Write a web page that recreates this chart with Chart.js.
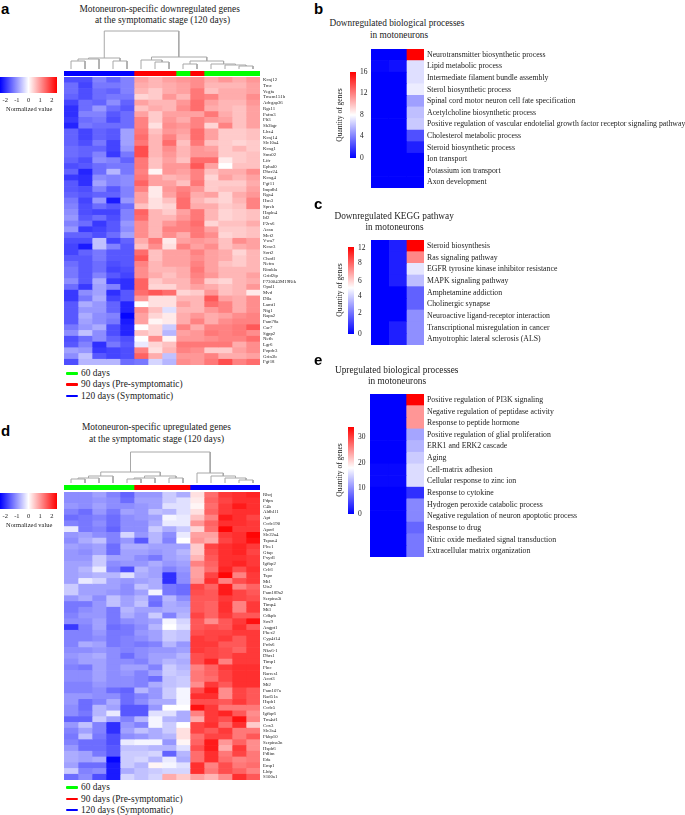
<!DOCTYPE html>
<html>
<head>
<meta charset="utf-8">
<title>Motoneuron heatmaps</title>
<script src="https://cdn.jsdelivr.net/npm/chart.js@4"></script>
<style>
    html, body { margin: 0; padding: 0; background: #fff; }
    body { width: 685px; height: 815px; position: relative; overflow: hidden; filter: blur(0.45px); }
    canvas { position: absolute; }
    .txt { position: absolute; white-space: nowrap; color: #222; font-family: "Liberation Serif", serif; transform: translateY(-50%); }
    .letter { position: absolute; color: #000; font: bold 15px "Liberation Sans", sans-serif; transform: translateY(-50%); }
    .rot { position: absolute; white-space: nowrap; color: #222; font: 7.5px "Liberation Serif", serif; transform: translate(-50%, -50%) rotate(-90deg); }
    .dash { position: absolute; height: 2.5px; border-radius: 1px; width: 12px; }
</style>
</head>
<body>
<script>
const genesA = ['Kcnj12', 'Trnc', 'Vegfa', 'Tmem151b', 'Adcgap36', 'Rgs11', 'Pafm3', 'Flt3', 'Sh3bgr', 'Lhx4',
    'Kcnj14', 'Slc10a4', 'Kcng1', 'Sms02', 'Lifr', 'Ephal0', 'Dhcr24', 'Kcng4', 'Fgf11', 'Impdh1',
    'Rga4', 'Hsn3', 'Spreb', 'Hapln4', 'Id2', 'P2rx6', 'Acan', 'Mcf2', 'Vwa7', 'Kcnc3',
    'Sort2', 'Chodl', 'Nefm', 'Rimkla', 'Grid2ip', 'F730043M19Rik', 'Opal1', 'Mvd', 'Dlla', 'Lamt1',
    'Ntg1', 'Rapa2', 'Fam78a', 'Car7', 'Sgpp2', 'Nefh', 'Lgr6', 'Popdc3', 'Grin3b', 'Fgf18'];

const valuesA = [
    [-1.7,-1.7,-1.2,-1.5,-1.2, 0.9,0.7,0.9,1.0,1.1,0.8,1.0,0.8,1.0],
    [-1.4,-1.8,-1.3,-1.3,-1.2, 0.8,0.7,0.8,0.9,1.1,0.7,0.7,0.7,0.9],
    [-1.4,-1.7,-1.4,-1.5,-1.2, 0.7,0.5,0.8,0.9,1.3,0.6,0.8,0.8,0.9],
    [-1.5,-1.7,-1.4,-1.3,-1.3, 0.4,0.5,1.0,0.7,1.3,1.2,0.8,0.8,1.1],
    [-1.8,-1.4,-1.5,-1.1,-1.5, 0.9,0.7,0.7,1.0,1.4,0.9,0.7,0.7,1.0],
    [-2.0,-1.4,-1.0,-1.4,-1.6, 0.6,0.8,0.7,1.1,1.4,0.8,0.7,0.6,0.9],
    [-2.0,-1.2,-1.2,-1.6,-1.4, 0.9,0.5,0.9,0.9,0.9,1.3,0.8,0.6,0.9],
    [-1.9,-1.4,-1.3,-1.7,-1.4, 1.2,0.5,1.0,0.8,1.2,1.0,0.9,0.6,0.9],
    [-2.1,-1.3,-1.4,-1.4,-1.4, 1.2,0.3,1.1,1.0,1.2,0.4,1.2,0.6,0.9],
    [-1.5,-1.8,-1.5,-1.6,-0.9, 1.3,0.6,1.0,0.9,1.4,0.9,0.5,0.5,0.6],
    [-1.5,-1.8,-1.5,-1.6,-0.9, 1.4,0.7,1.2,0.8,1.4,0.9,0.5,0.5,0.6],
    [-1.5,-1.7,-1.3,-1.8,-0.9, 1.3,0.7,1.4,0.6,1.3,0.6,0.5,0.4,0.5],
    [-1.4,-1.5,-1.5,-1.8,-1.0, 1.7,0.7,1.1,0.7,1.0,0.9,0.5,0.7,0.5],
    [-1.4,-1.5,-1.2,-1.9,-1.3, 1.7,0.7,1.0,0.7,1.0,1.0,0.5,0.5,0.6],
    [-1.5,-1.7,-1.1,-1.2,-1.5, 1.3,0.6,0.9,0.6,1.4,1.4,0.2,0.5,0.6],
    [-1.7,-1.6,-1.4,-1.3,-1.3, 1.3,0.6,1.0,1.0,1.6,0.9,0.0,0.6,0.6],
    [-1.5,-2.1,-1.4,-0.7,-1.3, 1.2,0.1,1.0,0.9,1.2,0.6,0.8,0.8,1.1],
    [-1.9,-2.0,-1.1,-1.2,-1.1, 1.3,0.9,0.7,0.8,1.2,0.4,0.9,0.7,0.9],
    [-1.6,-2.0,-0.9,-1.2,-1.1, 1.5,0.9,0.9,0.6,1.3,0.5,0.5,0.5,0.8],
    [-1.6,-1.7,-1.2,-1.6,-1.2, 1.2,0.2,1.0,1.2,1.0,0.5,0.6,0.6,0.9],
    [-1.5,-1.6,-1.5,-1.5,-1.2, 0.9,0.2,0.9,1.3,0.8,0.9,0.4,0.8,1.0],
    [-1.3,-1.8,-1.0,-2.2,-1.0, 0.9,0.3,0.6,1.4,0.7,0.5,0.4,0.7,1.2],
    [-1.2,-1.7,-1.4,-1.6,-1.4, 0.6,0.3,0.4,1.4,0.8,0.8,0.5,0.6,1.2],
    [-1.1,-1.7,-1.8,-1.8,-1.2, 1.5,0.7,0.5,0.9,1.3,0.7,0.4,0.5,0.6],
    [-1.0,-1.6,-1.4,-1.7,-1.2, 1.4,0.7,0.7,1.0,1.3,0.7,0.4,0.5,0.6],
    [-1.2,-1.4,-1.9,-1.6,-1.0, 1.1,0.7,1.0,1.2,1.4,0.4,0.6,0.6,0.8],
    [-1.0,-1.9,-1.8,-1.6,-1.1, 1.1,0.7,1.2,1.2,1.3,0.9,0.5,0.5,0.6],
    [-1.5,-1.5,-1.7,-1.4,-0.9, 1.1,0.7,1.1,0.8,1.3,1.1,0.4,0.5,0.6],
    [-1.7,-1.7,-0.6,-1.8,-1.5, 0.8,1.3,0.2,0.9,1.0,0.9,0.6,1.1,0.9],
    [-1.8,-2.2,-0.6,-1.2,-1.6, 0.6,1.1,0.3,1.2,0.9,1.1,0.6,0.8,0.9],
    [-1.8,-1.5,-1.3,-1.6,-1.6, 1.4,0.6,0.9,0.9,1.2,0.9,0.8,0.4,0.7],
    [-1.6,-1.6,-1.3,-1.6,-1.6, 1.6,0.6,0.9,0.9,1.1,0.9,0.8,0.5,0.7],
    [-1.4,-1.6,-1.4,-1.7,-1.6, 1.2,0.7,0.9,0.9,1.2,0.9,0.6,0.5,0.7],
    [-1.3,-1.6,-1.4,-1.8,-1.7, 1.1,0.7,0.7,0.8,1.3,0.9,0.7,0.7,0.7],
    [-1.3,-1.6,-1.2,-1.6,-1.8, 1.1,0.8,0.6,0.8,1.2,1.0,0.7,0.7,0.9],
    [-1.1,-1.6,-0.8,-1.9,-2.0, 1.5,0.5,0.7,0.7,1.1,0.5,0.4,0.7,0.8],
    [-1.4,-1.9,-0.9,-1.2,-2.0, 1.5,0.4,0.4,0.7,0.9,0.8,0.6,0.7,1.0],
    [-1.9,-1.1,-0.9,-2.0,-1.6, 1.4,1.6,1.4,0.4,0.5,1.0,0.6,0.7,0.2],
    [-1.9,-1.3,-0.8,-1.8,-1.6, 1.0,0.3,0.3,0.7,0.7,1.6,0.9,0.8,1.1],
    [-1.6,-0.8,-1.0,-1.5,-2.1, 0.0,0.3,0.3,0.9,0.7,1.4,1.2,0.8,1.1],
    [-1.6,-1.0,-1.0,-1.5,-2.1, 1.1,0.6,-0.3,0.7,0.7,1.0,1.2,0.8,1.1],
    [-1.6,-0.8,-1.1,-1.2,-2.4, 0.9,0.4,0.2,0.8,1.0,0.8,0.9,1.1,1.2],
    [-1.6,-0.9,-1.1,-1.3,-2.2, 0.9,0.1,0.2,0.8,1.2,0.8,1.1,1.2,1.2],
    [-1.3,-1.0,-0.8,-1.7,-2.1, 0.0,0.4,-0.5,1.2,0.8,1.2,1.2,1.3,1.6],
    [-1.1,-0.6,-1.1,-1.7,-2.1, 0.6,0.4,-0.7,0.9,1.0,1.3,1.2,1.3,1.1],
    [-1.7,-1.4,-1.1,-1.5,-1.7, 0.0,1.1,0.1,1.0,1.0,1.1,1.2,1.2,1.4],
    [-1.6,-1.2,-2.0,-1.3,-1.6, -0.2,0.4,0.6,1.3,1.3,1.3,1.3,0.8,1.1],
    [-0.9,-1.0,-1.9,-1.8,-1.7, 1.2,0.3,0.7,1.2,1.1,0.5,0.5,0.9,1.1],
    [-1.1,-0.6,-1.6,-1.8,-1.7, 1.5,0.8,-0.6,1.0,1.0,1.2,0.8,0.8,0.9],
    [-1.7,-0.7,-0.7,-0.7,-1.4, -1.3,-0.4,-0.7,1.1,1.0,1.3,1.7,1.2,1.4]
];

const genesD = ['Rhoj', 'Pdpn', 'C4b', 'Aldh1l1', 'Apt', 'Ccdc190', 'Apod', 'Slc22a4', 'Tspan4', 'Plce1',
    'Gfap', 'Fxyd1', 'Igfbp2', 'Crlf1', 'Tspo', 'Mt1', 'Uts2', 'Fam189a2', 'Serpina3i', 'Timp4',
    'Mt3', 'Cdkpb', 'Sox9', 'Angpt1', 'Phex2', 'Cyp4f14', 'Prdx6', 'Nkx6-1', 'Dhrs1', 'Timp1',
    'Flnc', 'Rarres1', 'Acot3', 'Mt2', 'Fam107a', 'Rad51a', 'Hspb1', 'Ccdc5', 'Igfbp6', 'Tm4sf1',
    'Cox3', 'Slc2a4', 'Fkbp10', 'Serpina3n', 'Hspb6', 'Pdlim', 'Eda', 'Emp1', 'Lhfp', 'S100a1'];

const valuesD = [
    [-1.1,-1.1,-0.9,-1.2,-1.5, -1.0,-1.0,-0.5,-0.8, 0.3,1.4,1.9,2.0,2.1],
    [-1.1,-1.1,-1.0,-1.1,-1.4, -0.9,-0.9,-0.5,-0.3, 0.2,1.5,1.8,2.0,2.0],
    [-1.0,-1.1,-0.9,-1.1,-1.1, -1.0,-0.9,-0.3,-0.3, 0.1,1.4,1.9,2.2,2.0],
    [-1.2,-1.4,-1.0,-1.3,-0.9, -1.0,-0.6,-0.7,-0.3, 0.3,1.5,1.9,2.0,2.0],
    [-1.4,-1.3,-1.2,-1.4,-1.1, -1.0,-0.9,-0.1,-0.2, 0.6,1.2,2.2,2.0,1.8],
    [-1.2,-1.3,-1.1,-1.4,-1.1, -1.1,-0.8,-0.2,-0.2, 1.0,1.5,2.0,2.0,1.9],
    [-0.2,-1.3,-1.2,-1.5,-1.1, -1.1,-0.5,-0.8,-0.5, 0.4,1.4,2.4,1.9,1.9],
    [-1.0,-0.9,-1.1,-1.2,-0.4, -1.0,-0.7,-1.1,-0.2, 0.9,0.9,1.9,2.0,2.4],
    [-1.1,-0.8,-0.6,-1.2,-1.0, -1.6,-0.7,-1.2,0.0, 1.0,0.8,1.8,2.0,2.3],
    [-0.9,-1.0,-0.9,-1.4,-0.8, -0.8,-0.9,-0.9,-0.9, 0.5,1.8,2.0,2.1,1.9],
    [-1.0,-1.1,-0.9,-1.4,-0.9, -0.9,-1.0,-0.9,-0.7, 0.5,1.7,2.0,2.1,1.8],
    [-1.0,-1.0,-0.5,-0.9,-0.9, -1.1,-1.3,-0.9,-0.8, 0.7,1.6,2.0,2.0,1.9],
    [-0.9,-0.9,-0.5,-1.1,-1.0, -1.0,-0.8,-1.0,-0.9, 1.2,1.5,2.0,2.1,1.9],
    [-0.9,-0.7,-0.2,-1.2,-1.7, -0.7,-0.9,-1.2,-1.0, 0.9,1.4,2.1,1.7,2.0],
    [-0.9,-0.8,-0.7,-0.7,-0.3, -0.8,-0.9,-2.0,-1.1, 0.9,1.8,2.4,1.2,1.9],
    [-0.9,-0.2,-0.4,-0.9,-1.0, -0.9,-0.8,-2.0,-1.1, 1.0,2.0,1.2,1.7,1.9],
    [-0.5,-0.9,-0.9,-0.9,-1.1, -0.6,-0.8,-1.3,-1.4, 1.8,1.5,2.2,1.2,1.5],
    [-0.5,-0.9,-0.9,-1.0,-1.1, -0.9,-0.1,-1.3,-1.4, 1.7,1.6,2.2,1.8,1.6],
    [-1.0,-0.8,-1.1,-0.6,-0.9, -0.7,-1.3,-0.7,-1.1, 1.6,1.6,1.9,1.8,1.7],
    [-1.3,-1.3,-1.0,-0.6,-0.9, -0.6,-1.4,-0.8,-0.9, 1.6,1.5,2.0,1.2,1.9],
    [-1.3,-1.1,-1.0,-1.3,-0.7, -0.9,-0.9,-0.8,-0.8, 1.6,1.5,2.0,1.2,1.9],
    [-1.2,-1.0,-1.0,-1.3,-0.8, -1.0,-0.5,-1.2,-0.7, 1.8,1.5,1.9,1.6,1.6],
    [-1.1,-1.1,-0.9,-1.3,-1.1, -1.0,-0.9,-0.1,-0.4, 1.6,1.1,1.6,1.9,2.3],
    [-1.9,-1.2,-0.9,-1.4,-1.3, -1.1,-0.7,0.0,-0.3, 1.6,1.7,1.6,2.0,1.6],
    [-1.2,-1.2,-1.0,-1.3,-1.3, -1.0,-0.9,-0.5,-0.6, 1.7,1.8,1.8,1.9,1.9],
    [-1.2,-1.2,-1.1,-1.3,-1.2, -1.1,-0.9,-0.5,-0.6, 1.9,1.8,1.9,1.6,1.9],
    [-1.2,-0.8,-0.9,-1.3,-1.2, -1.3,-1.2,-0.7,-1.0, 1.9,1.9,1.6,1.6,1.9],
    [-1.1,-1.1,-1.0,-1.1,-1.2, -1.1,-1.0,-1.0,-0.9, 1.9,1.8,1.7,1.5,1.9],
    [-1.0,-0.9,-0.8,-1.1,-1.4, -1.1,-0.9,-0.9,-0.7, 1.7,1.8,1.7,1.9,1.9],
    [-1.1,-0.9,-0.9,-1.1,-1.1, -1.2,-0.9,-0.7,-0.8, 1.7,2.1,1.2,1.9,1.9],
    [-1.2,-1.3,-0.9,-1.1,-0.9, -0.9,-1.2,-0.5,-0.7, 1.2,1.5,1.9,2.0,2.0],
    [-1.1,-1.1,-0.9,-1.1,-1.0, -1.2,-0.9,-0.5,-0.6, 1.3,1.5,1.8,2.0,2.0],
    [-1.1,-1.1,-0.9,-1.1,-1.1, -1.2,-1.4,-0.6,-0.5, 1.3,1.4,1.8,2.0,2.0],
    [-1.2,-1.2,-1.0,-1.1,-1.1, -1.2,-0.8,-0.6,-0.5, 1.1,1.9,1.6,2.0,2.0],
    [-1.2,-1.2,-1.1,-1.4,-1.5, -0.7,-1.0,-0.5,-0.1, 1.7,2.2,1.1,1.8,1.6],
    [-1.0,-1.0,-1.1,-1.1,-1.4, -1.2,-1.0,-0.5,-0.1, 2.0,2.0,1.1,1.8,1.6],
    [-1.0,-1.4,-1.2,-0.8,-1.4, -1.1,-0.8,-0.8,-0.1, 1.7,1.7,1.6,1.9,1.6],
    [-1.1,-1.4,-0.7,-0.9,-1.6, -1.6,-1.0,0.0,0.0, 2.3,1.9,1.3,1.3,1.3],
    [-1.1,-1.3,-0.7,-0.2,-1.6, -1.6,-0.3,-0.3,-0.8, 1.2,1.9,2.1,1.6,1.1],
    [-1.5,-1.5,-0.5,-0.9,-1.2, -0.7,-0.1,-0.7,-0.8, 0.8,1.9,1.7,2.3,1.2],
    [-1.0,-0.6,-1.2,-2.0,-1.0, -1.2,-0.1,-0.5,0.0, 1.8,2.0,1.4,2.0,0.5],
    [-1.2,-0.9,-1.2,-2.0,-0.9, -0.6,-0.8,-0.5,0.3, 1.8,1.6,1.9,1.3,1.3],
    [-1.3,-0.6,-1.3,-1.7,-1.1, -1.0,-0.8,-0.7,0.3, 1.4,1.8,1.8,1.3,1.6],
    [-1.2,-1.4,-1.4,-1.7,-0.2, -0.1,-0.1,-1.0,0.1, 1.5,2.2,1.0,1.5,1.1],
    [-1.0,-1.4,-1.4,-1.6,-0.6, -0.6,-0.7,-0.7,-0.3, 1.7,2.2,0.8,1.9,1.1],
    [-0.8,-0.9,-1.3,-1.6,-0.5, -0.5,-0.4,-1.5,-0.7, 1.4,2.0,1.3,1.8,1.3],
    [-0.8,-0.9,-0.8,-2.4,-0.5, -0.4,-0.7,-0.2,-0.8, 1.4,2.0,1.4,1.2,1.3],
    [-0.9,-1.4,-1.4,-2.2,-0.5, -0.7,0.1,-0.1,-0.3, 2.0,1.2,1.7,1.3,1.4],
    [-0.5,-1.2,-1.1,-2.2,-0.8, -0.6,-0.5,-0.4,-0.4, 2.0,1.3,1.7,1.5,1.2],
    [-1.4,-1.1,-1.7,-2.2,-0.4, -0.6,-0.4,0.8,0.5, 0.9,0.7,1.1,2.0,1.6]
];

// sample group of each heatmap column, in days
const daysA = [120, 120, 120, 120, 120, 90, 90, 90, 60, 90, 60, 60, 60, 60];
const daysD = [60, 60, 60, 60, 60, 90, 90, 90, 90, 120, 120, 120, 120, 120];
const legendDays = [60, 90, 120];
const legendNames = ['60 days', '90 days (Pre-symptomatic)', '120 days (Symptomatic)'];
const legendColors = ['#00ff00', '#ff0000', '#0000ff'];

// dendrogram merges: [left x, left height, right x, right height, merge height]
const treeA = [
    [0.5, 0, 1.5, 0, 8], [1, 8, 2.5, 0, 10], [3.5, 0, 4.5, 0, 8], [1.75, 10, 4, 8, 11],
    [6.5, 0, 7.5, 0, 7], [5.5, 0, 7, 7, 9], [8.5, 0, 9.5, 0, 5], [12.5, 0, 13.5, 0, 3],
    [11.5, 0, 13, 3, 4], [10.5, 0, 12.25, 4, 5], [9, 5, 11.4, 5, 8], [6.25, 9, 10.2, 8, 12],
    [2.875, 11, 8.2, 12, 38]
];
const treeD = [
    [0.5, 0, 1.5, 0, 4], [1, 4, 2.5, 0, 5], [1.75, 5, 3.5, 0, 7],
    [4.5, 0, 5.5, 0, 4], [5, 4, 6.5, 0, 5], [7.5, 0, 8.5, 0, 5], [5.75, 5, 8, 5, 7],
    [2.625, 7, 6.875, 7, 11],
    [12.5, 0, 13.5, 0, 3], [11.5, 0, 13, 3, 5], [10.5, 0, 12.25, 5, 7], [9.5, 0, 11.375, 7, 10],
    [4.75, 11, 10.44, 10, 31]
];

const termsB = ['Neurotransmitter biosynthetic process', 'Lipid metabolic process', 'Intermediate filament bundle assembly',
    'Sterol biosynthetic process', 'Spinal cord motor neuron cell fate specification', 'Acetylcholine biosynthetic process',
    'Positive regulation of vascular endotelial growth factor receptor signaling pathway', 'Cholesterol metabolic process',
    'Steroid biosynthetic process', 'Ion transport', 'Potassium ion transport', 'Axon development'];
const valuesB = [[0, 0, 16], [0.2, 0.5, 7], [0, 0, 7], [0, 0, 7.4], [0, 0, 5], [0, 0, 6],
    [0, 0, 6.3], [0, 0, 2.5], [0, 0, 1], [0, 0, 0], [0, 0, 0], [0, 0, 0]];

const termsC = ['Steroid biosynthesis', 'Ras signaling pathway', 'EGFR tyrosine kinase inhibitor resistance',
    'MAPK signaling pathway', 'Amphetamine addiction', 'Cholinergic synapse', 'Neuroactive ligand-receptor interaction',
    'Transcriptional misregulation in cancer', 'Amyotrophic lateral sclerosis (ALS)'];
const valuesC = [[0, 0.6, 12], [0, 0.6, 8.3], [0, 0.6, 4.5], [0, 0.6, 3.7], [0, 0, 1.9], [0, 0, 1.9],
    [0, 0, 2.8], [0, 0.6, 2.8], [0, 0.6, 2.8]];

const termsE = ['Positive regulation of PI3K signaling', 'Negative regulation of peptidase activity', 'Response to peptide hormone',
    'Positive regulation of glial proliferation', 'ERK1 and ERK2 cascade', 'Aging', 'Cell-matrix adhesion',
    'Cellular response to zinc ion', 'Response to cytokine', 'Hydrogen peroxide catabolic process',
    'Negative regulation of neuron apoptotic process', 'Response to drug', 'Nitric oxide mediated signal transduction',
    'Extracellular matrix organization'];
const valuesE = [[0, 0, 34], [0, 0, 24], [0, 0, 24], [0, 0, 11], [0, 0, 12], [0, 0, 13.5], [0.5, 0.5, 14.7],
    [0.5, 0.5, 14.7], [0, 0, 3.2], [0, 0, 9], [0, 0, 9], [0, 0, 6.8], [0, 0, 8], [0, 0, 8]];

// colour bars: tick position on the bar, and the label shown there
const zTicks = [-2, -1, 0, 1, 2];
const ticksB = [0, 4, 8, 12, 16];
const ticksCPos = [0, 2.9, 5.2, 7.35, 9.8, 11.9];
const ticksCLabels = [0, 2, 4, 6, 8, 12];
const ticksEPos = [0, 10, 20, 30];

const serif = 'Liberation Serif';

// blue -> white -> red, white sits at mid
function shade(v, lo, mid, hi) {
    if (v <= mid) {
        const w = Math.round(255 * Math.max(0, (v - lo) / (mid - lo)));
        return `rgb(${w},${w},255)`;
    }
    const w = Math.round(255 * (1 - Math.min(1, (v - mid) / (hi - mid))));
    return `rgb(255,${w},${w})`;
}

function addCanvas(left, top, width, height) {
    const c = document.createElement('canvas');
    c.width = width;
    c.height = height;
    c.style.left = left + 'px';
    c.style.top = top + 'px';
    document.body.appendChild(c);
    return c;
}

function addText(text, left, y, size) {
    const d = document.createElement('div');
    d.className = 'txt';
    d.textContent = text;
    d.style.left = left + 'px';
    d.style.top = y + 'px';
    d.style.fontSize = size + 'px';
    document.body.appendChild(d);
}

function addLetter(text, left, y) {
    const d = document.createElement('div');
    d.className = 'letter';
    d.textContent = text;
    d.style.left = left + 'px';
    d.style.top = y + 'px';
    document.body.appendChild(d);
}

function addRotated(text, x, y) {
    const d = document.createElement('div');
    d.className = 'rot';
    d.textContent = text;
    d.style.left = x + 'px';
    d.style.top = y + 'px';
    document.body.appendChild(d);
}

//Stacked horizontal bars, one dataset per column, gives the heatmap cells
function heatmap(left, top, areaWidth, height, labelWidth, labels, rows, colorOf, fontSize) {
    const nCols = rows[0].length;
    const datasets = [];
    for (let c = 0; c < nCols; c++) {
        datasets.push({
            data: rows.map(() => 1),
            backgroundColor: rows.map(r => colorOf(r[c])),
            borderWidth: 0,
            barPercentage: 1,
            categoryPercentage: 1
        });
    }
    new Chart(addCanvas(left, top, areaWidth + labelWidth, height), {
        type: 'bar',
        data: { labels: labels, datasets: datasets },
        options: {
            indexAxis: 'y',
            responsive: false,
            animation: false,
            layout: { padding: 0 },
            plugins: { legend: { display: false }, tooltip: { enabled: false } },
            scales: {
                x: { display: false, stacked: true, min: 0, max: nCols },
                y: {
                    display: labelWidth > 0,
                    position: 'right',
                    stacked: true,
                    grid: { display: false, drawTicks: false },
                    border: { display: false },
                    ticks: { autoSkip: false, padding: 3, color: '#222', font: { family: serif, size: fontSize } },
                    afterFit: s => { s.width = labelWidth; s.paddingTop = 0; s.paddingBottom = 0; }
                }
            }
        }
    });
}

function dendrogram(left, top, width, merges) {
    new Chart(addCanvas(left, top, width, 40), {
        type: 'scatter',
        data: {
            datasets: merges.map(m => ({
                data: [{ x: m[0], y: m[1] }, { x: m[0], y: m[4] }, { x: m[2], y: m[4] }, { x: m[2], y: m[3] }],
                showLine: true,
                pointRadius: 0,
                borderColor: '#a8a8a8',
                borderWidth: 1
            }))
        },
        options: {
            responsive: false,
            animation: false,
            layout: { padding: 0 },
            plugins: { legend: { display: false }, tooltip: { enabled: false } },
            scales: {
                x: { display: false, min: 0, max: 14 },
                y: { display: false, min: 0, max: 40 }
            }
        }
    });
}

function stripColor(days) {
    return legendColors[legendDays.indexOf(days)];
}

// colour bar is one floating bar filled with a gradient
function colorBar(left, top, barLong, barThick, horizontal, min, max, whiteAt, tickPos, tickLabels) {
    // vertical bars need room for the first and last tick label
    const pad = horizontal ? 0 : 5;
    const size = horizontal ? [barLong, barThick + 12] : [barThick + 24, barLong + 2 * pad];
    const scaleOpts = {
        min: min,
        max: max,
        grid: { display: false, drawTicks: false },
        border: { display: false },
        afterBuildTicks: s => { s.ticks = tickPos.map(p => ({ value: p })); },
        ticks: {
            autoSkip: false,
            maxRotation: 0,
            padding: horizontal ? 3 : 4,
            color: '#222',
            font: { family: serif, size: horizontal ? 6.5 : 7.5 },
            callback: (v, i) => tickLabels[i]
        },
        afterFit: s => {
            s.paddingTop = 0; s.paddingBottom = 0; s.paddingLeft = 0; s.paddingRight = 0;
            if (horizontal) { s.height = 12; } else { s.width = 24; }
        }
    };
    const otherOpts = { display: false };
    new Chart(addCanvas(left, top - pad, size[0], size[1]), {
        type: 'bar',
        data: {
            labels: ['scale'],
            datasets: [{
                data: [[min, max]],
                barPercentage: 1,
                categoryPercentage: 1,
                borderWidth: 0,
                borderSkipped: false,
                backgroundColor: ctx => {
                    const a = ctx.chart.chartArea;
                    if (!a) return '#ccc';
                    const g = horizontal
                        ? ctx.chart.ctx.createLinearGradient(a.left, 0, a.right, 0)
                        : ctx.chart.ctx.createLinearGradient(0, a.bottom, 0, a.top);
                    g.addColorStop(0, '#0000ff');
                    g.addColorStop(whiteAt, '#ffffff');
                    g.addColorStop(1, '#ff0000');
                    return g;
                }
            }]
        },
        options: {
            indexAxis: horizontal ? 'y' : 'x',
            responsive: false,
            animation: false,
            layout: { padding: { top: pad, bottom: pad } },
            plugins: { legend: { display: false }, tooltip: { enabled: false } },
            scales: horizontal
                ? { x: Object.assign({ position: 'bottom' }, scaleOpts), y: otherOpts }
                : { y: Object.assign({ position: 'right' }, scaleOpts), x: otherOpts }
        }
    });
}

function legendBlock(top) {
    legendNames.forEach((name, i) => {
        const y = top + i * 11.3;
        const d = document.createElement('div');
        d.className = 'dash';
        d.style.left = '66px';
        d.style.top = (y - 1) + 'px';
        d.style.background = legendColors[i];
        document.body.appendChild(d);
        addText(name, 81, y, 9.4);
    });
}

const zColor = v => shade(v, -2.45, 0, 2.45);

//Painel a
addLetter('a', 1, 8);
addText('Motoneuron-specific downregulated genes', 79.5, 8.5, 9.4);
addText('at the symptomatic stage (120 days)', 95, 20, 9.4);
dendrogram(64, 29, 196, treeA);
heatmap(64, 71, 196, 5, 0, ['group'], [daysA], stripColor, 5);
heatmap(64, 77, 196, 288, 40, genesA, valuesA, zColor, 4.8);
colorBar(0, 77, 57, 16, true, -2.45, 2.45, 0.5, zTicks, zTicks);
addText('Normalized value', 6, 108, 6.5);
legendBlock(373);

//Painel d
addLetter('d', 1, 430);
addText('Motoneuron-specific upregulated genes', 82, 427, 9.4);
addText('at the symptomatic stage (120 days)', 89, 438.7, 9.4);
dendrogram(64, 443, 196, treeD);
heatmap(64, 484.5, 196, 5, 0, ['group'], [daysD], stripColor, 5);
heatmap(64, 491.5, 196, 288, 40, genesD, valuesD, zColor, 4.8);
colorBar(0, 493, 57, 16, true, -2.45, 2.45, 0.5, zTicks, zTicks);
addText('Normalized value', 6, 524, 6.5);
legendBlock(787.3);

//Painel b
addLetter('b', 314, 8);
addText('Downregulated biological processes', 329.5, 23, 9.3);
addText('in motoneurons', 370, 34.5, 9.3);
heatmap(371, 48.5, 53, 139, 261, termsB, valuesB, v => shade(v, 0, 8, 16), 7.8);
colorBar(350, 72, 86, 6, false, 0, 16, 0.5, ticksB, ticksB);
addRotated('Quantity of genes', 339, 115);

//Painel c
addLetter('c', 314, 203);
addText('Downregulated KEGG pathway', 334.5, 216, 9.3);
addText('in motoneurons', 365.5, 227, 9.3);
heatmap(371, 239.5, 53, 105, 261, termsC, valuesC, v => shade(v, 0, 5, 12), 7.8);
colorBar(348, 247, 87, 6, false, 0, 12, 0.53, ticksCPos, ticksCLabels);
addRotated('Quantity of genes', 339, 290);

//Painel e
addLetter('e', 314, 359);
addText('Upregulated biological processes', 335, 370, 9.3);
addText('in motoneurons', 368, 381, 9.3);
heatmap(370, 394, 54, 163.5, 261, termsE, valuesE, v => shade(v, 0, 17, 34), 7.8);
colorBar(348, 427, 87, 6, false, 0, 34, 0.53, ticksEPos, ticksEPos);
addRotated('Quantity of genes', 339, 470);
</script>
</body>
</html>
